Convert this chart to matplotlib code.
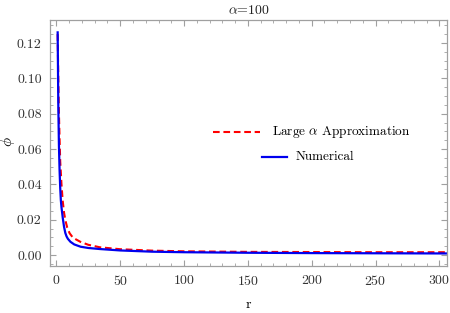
import matplotlib.pyplot as plt
from matplotlib.lines import Line2D
from matplotlib.ticker import MultipleLocator

plt.rcParams['font.family'] = 'cmr10'
plt.rcParams['mathtext.fontset'] = 'cm'
plt.rcParams['axes.formatter.use_mathtext'] = True

# values
r_num = [1, 1.5, 2, 2.5, 3, 3.5, 4, 5, 6, 7, 8, 9, 11, 14, 19, 25, 34, 50,
         75, 100, 150, 200, 250, 306]
phi_num = [0.126, 0.085, 0.062, 0.048, 0.038, 0.031, 0.027, 0.021, 0.016, 0.0125,
           0.0105, 0.0092, 0.0075, 0.0060, 0.0047, 0.0040, 0.0034, 0.0026,
           0.0019, 0.0016, 0.0013, 0.0011, 0.0010, 0.0009]
r_app = [1, 1.5, 2, 2.5, 3, 4, 4.9, 6, 7, 8.5, 10.4, 13, 18.75, 25, 34, 50,
         75, 100, 150, 200, 250, 306]
phi_app = [0.125, 0.100, 0.080, 0.066, 0.053, 0.040, 0.031, 0.024, 0.0198, 0.0155,
           0.0123, 0.0098, 0.0075, 0.0058, 0.0044, 0.0033, 0.0025, 0.0021,
           0.0018, 0.0017, 0.0016, 0.0016]

fig = plt.figure(figsize=(4.5, 3.13), dpi=100)
ax = fig.add_axes([50 / 450, 1 - 266 / 313, 397 / 450, 246 / 313])

ax.plot(r_app, phi_app, color='red', ls=(0, (3.2, 1.8)), lw=1.5)
ax.plot(r_num, phi_num, color='#0000ee', lw=1.6)

ax.set_xlim(-5, 306)
ax.set_ylim(-0.0062, 0.133)
ax.xaxis.set_major_locator(MultipleLocator(50))
ax.xaxis.set_minor_locator(MultipleLocator(10))
ax.yaxis.set_major_locator(MultipleLocator(0.02))
ax.yaxis.set_minor_locator(MultipleLocator(0.005))
ax.yaxis.set_major_formatter(plt.FuncFormatter(lambda v, p: f'{v:.2f}'))

for s in ax.spines.values():
    s.set_color('#a0a0a0')
    s.set_linewidth(0.9)
ax.tick_params(which='both', direction='in', top=True, right=True, color='#a0a0a0',
               labelsize=10, labelcolor='#333333', pad=6)
ax.tick_params(which='major', length=4)
ax.tick_params(which='minor', length=2)

ax.set_title(r'$\alpha$=100', fontsize=10, pad=4, color='#222222')
fig.text(248 / 450, 1 - 305 / 313, 'r', ha='center', va='center', fontsize=10)
fig.text(8 / 450, 1 - 142 / 313, r'$\phi$', ha='center', va='center', fontsize=11,
         rotation=90)

# legend
fig.add_artist(Line2D([213 / 450, 260 / 450], [1 - 132 / 313] * 2, color='red',
                      ls=(0, (3.2, 1.8)), lw=1.5))
fig.text(272 / 450, 1 - 132 / 313, r'Large $\alpha$ Approximation', va='center', fontsize=9.5)
fig.add_artist(Line2D([262 / 450, 287 / 450], [1 - 157 / 313] * 2, color='#0000ee', lw=1.6))
fig.text(296 / 450, 1 - 157 / 313, 'Numerical', va='center', fontsize=9.5)

fig.savefig('out.png', dpi=100)
